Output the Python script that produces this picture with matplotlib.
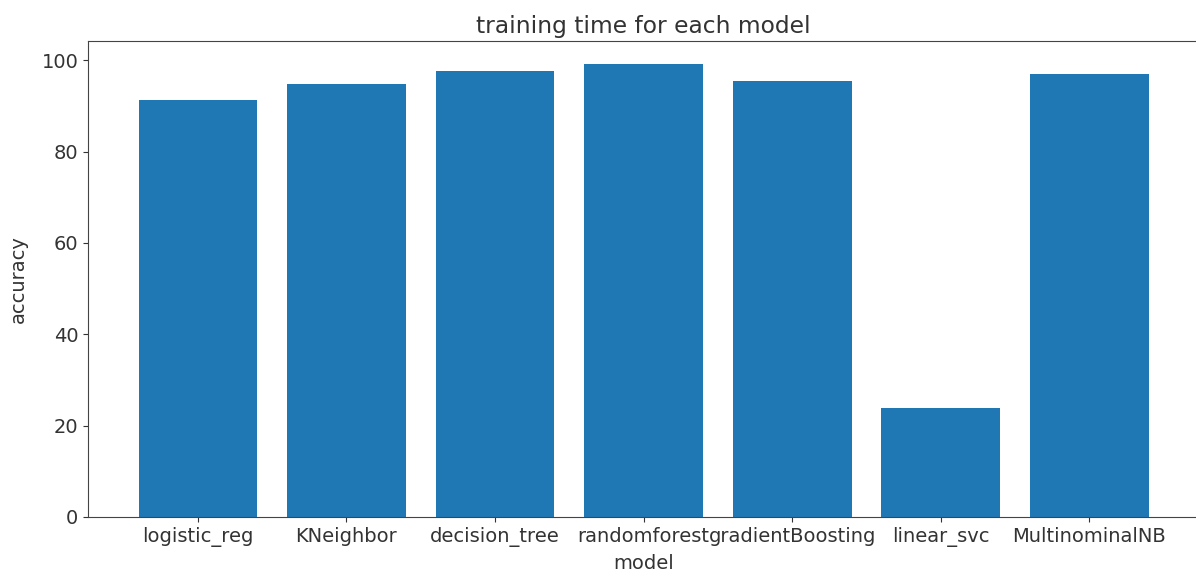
import matplotlib
matplotlib.use('Agg')
import matplotlib.pyplot as plt

models = ['logistic_reg', 'KNeighbor', 'decision_tree', 'randomforest',
          'gradientBoosting', 'linear_svc', 'MultinominalNB']
accuracy = [91.25, 94.75, 97.73, 99.26, 95.47, 23.83, 96.94]

plt.rcParams['font.size'] = 14
plt.rcParams['text.color'] = '#333333'
plt.rcParams['axes.labelcolor'] = '#333333'
plt.rcParams['xtick.color'] = '#333333'
plt.rcParams['ytick.color'] = '#333333'
plt.rcParams['axes.edgecolor'] = '#444444'

fig = plt.figure(figsize=(11.96, 5.72), dpi=100)
# the source screenshot cuts off the right spine, so the axes run past the edge
ax = fig.add_axes([0.0736, 0.0962, 0.9290, 0.8321])

ax.bar(models, accuracy, color='#1f77b4')
ax.set_title('training time for each model')
ax.set_xlabel('model', labelpad=5)
ax.set_ylabel('accuracy', labelpad=10)
ax.spines['right'].set_visible(False)

fig.savefig('out.png', dpi=100)
